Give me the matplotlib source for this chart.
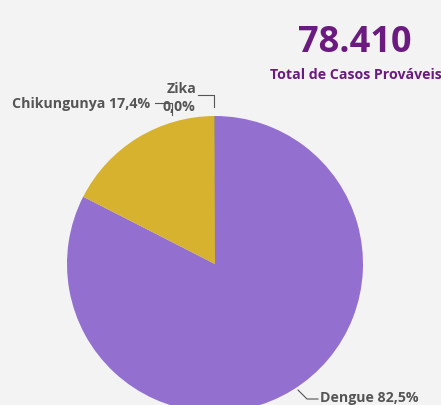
import matplotlib.pyplot as plt

# Casos prováveis por agravo
labels = ["Dengue", "Chikungunya", "Zika"]
cases = [64700, 13680, 30]
colors = ["#9370cf", "#d6b22e", "#3b2a7a"]
total_label = "78.410"
subtitle = "Total de Casos Prováveis"

W, H = 441, 406
bg = "#f3f3f3"
grey = "#555555"
purple = "#6b1a80"

fig = plt.figure(figsize=(W / 100, H / 100), dpi=100, facecolor=bg)
ax = fig.add_axes([0, 0, 1, 1])
ax.set_facecolor(bg)

# pie in pixel coords (y measured from the bottom)
cx, cy, r = 215, H - 265, 148
wedges, _ = ax.pie(cases, colors=colors, startangle=90, counterclock=False,
                   center=(cx, cy), radius=r, frame=True,
                   wedgeprops=dict(linewidth=0))
ax.set_xlim(0, W)
ax.set_ylim(0, H)
ax.set_aspect("auto")
ax.axis("off")

total = sum(cases)
pct = [f"{100 * v / total:.1f}".replace(".", ",") + "%" for v in cases]

font = dict(family="Open Sans", weight="bold", color=grey, fontsize=10.2)

# Chikungunya label and leader
ax.text(150, H - 104, f"{labels[1]} {pct[1]}", ha="right", va="center", **font)
ax.plot([155, 172, 172], [H - 104, H - 104, H - 116], color=grey, lw=0.8)

# Zika label and leader
ax.text(182, H - 89, labels[2], ha="center", va="center", **font)
ax.text(179, H - 107, pct[2], ha="center", va="center", **font)
ax.plot([198, 214, 214], [H - 96, H - 96, H - 108], color=grey, lw=0.8)

# Dengue label and leader
ax.plot([298, 307, 318], [H - 391, H - 400, H - 400], color=grey, lw=0.8)
ax.text(320, H - 398, f"{labels[0]} {pct[0]}", ha="left", va="center", **font)

# KPI
fig.text(355 / W, 1 - 43 / H, total_label, ha="center", va="center",
         fontsize=26, weight="bold", color=purple, family="Open Sans")
fig.text(356 / W, 1 - 75 / H, subtitle, ha="center", va="center",
         fontsize=10.2, weight="bold", color=purple, family="Open Sans")

fig.savefig("out.png", dpi=100, facecolor=bg)
